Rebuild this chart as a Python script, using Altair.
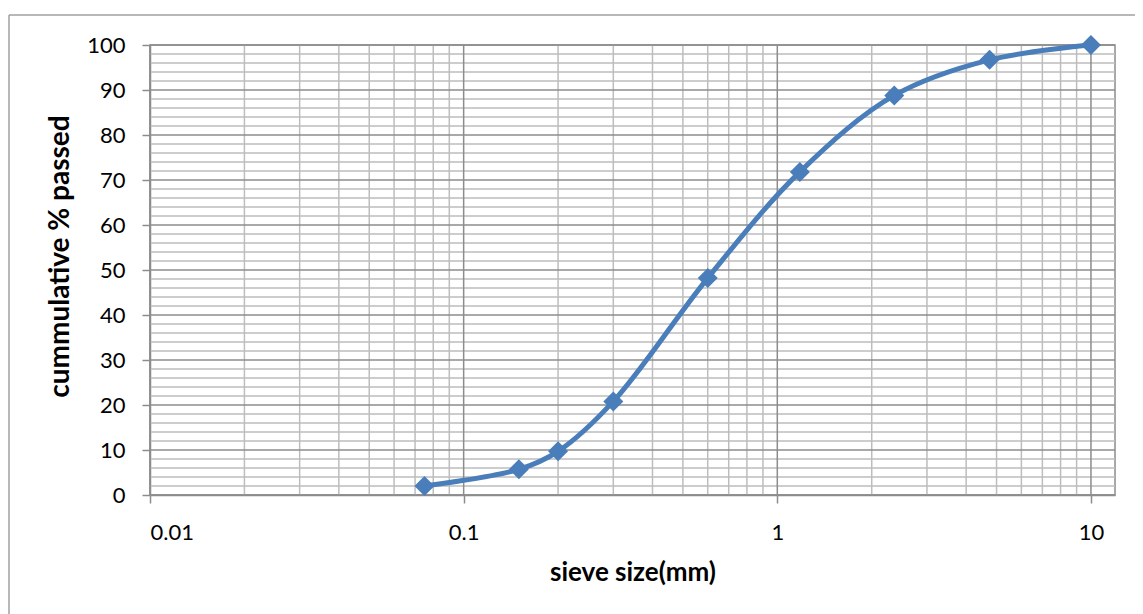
import altair as alt
import pandas as pd

# data
sieve_mm = [0.075, 0.15, 0.2, 0.3, 0.6, 1.18, 2.36, 4.75, 10]
passed = [2.0, 5.7, 9.7, 20.8, 48.2, 71.8, 88.8, 96.7, 100.0]

x_major = [0.01, 0.1, 1, 10]
x_minor = [0.02, 0.03, 0.04, 0.05, 0.06, 0.07, 0.08, 0.09,
           0.2, 0.3, 0.4, 0.5, 0.6, 0.7, 0.8, 0.9,
           2, 3, 4, 5, 6, 7, 8, 9]
y_major = [0, 10, 20, 30, 40, 50, 60, 70, 80, 90, 100]
y_minor = [v for v in range(0, 101, 2) if v % 10 != 0]

W, H = 965, 450
BLUE = "#4a7ebb"
MAJOR = "#8c8c8c"
MINOR = "#bdbdbd"
FONT = "Lato"
XT = "sieve size(mm)"
YT = "cummulative % passed"

xs = alt.Scale(type="log", domain=[0.01, 11.93], nice=False)
ys = alt.Scale(domain=[0, 100], nice=False)

xaxis = alt.Axis(values=x_major, format="~g", grid=False,
                 tickSize=8, tickColor=MAJOR, tickWidth=1.5,
                 domainColor=MAJOR, domainWidth=1.5,
                 labelPadding=19, titlePadding=16)
yaxis = alt.Axis(values=y_major, grid=False,
                 tickSize=8, tickColor=MAJOR, tickWidth=1.5,
                 domainColor=MAJOR, domainWidth=1.5,
                 labelPadding=17, titleX=-76, titleY=211, titleFontSize=28)

df = pd.DataFrame({"x": sieve_mm, "y": passed})

xminor = alt.Chart(pd.DataFrame({"x": x_minor})).mark_rule(
    color=MINOR, strokeWidth=1.5).encode(x=alt.X("x:Q", scale=xs, title=XT, axis=xaxis))
xmajor = alt.Chart(pd.DataFrame({"x": x_major})).mark_rule(
    color=MAJOR, strokeWidth=1.5).encode(x=alt.X("x:Q", scale=xs, title=XT, axis=xaxis))
yminor = alt.Chart(pd.DataFrame({"y": y_minor})).mark_rule(
    color=MINOR, strokeWidth=1.5).encode(y=alt.Y("y:Q", scale=ys, title=YT, axis=yaxis))
ymajor = alt.Chart(pd.DataFrame({"y": y_major})).mark_rule(
    color=MAJOR, strokeWidth=1.5).encode(y=alt.Y("y:Q", scale=ys, title=YT, axis=yaxis))

# chart outer border (left and top)
border_left = alt.Chart(pd.DataFrame({"a": [0]})).mark_rule(
    color="#a0a0a0", strokeWidth=1.5).encode(
    x=alt.value(-141), y=alt.value(-30), y2=alt.value(H + 140))
border_top = alt.Chart(pd.DataFrame({"a": [0]})).mark_rule(
    color="#a0a0a0", strokeWidth=1.5).encode(
    x=alt.value(-141), x2=alt.value(W + 60), y=alt.value(-30))

base = alt.Chart(df).encode(
    x=alt.X("x:Q", scale=xs, title=XT, axis=xaxis),
    y=alt.Y("y:Q", scale=ys, title=YT, axis=yaxis),
)
line = base.mark_line(color=BLUE, strokeWidth=5, interpolate="catmull-rom")
pts = base.mark_point(shape="diamond", filled=True, color=BLUE, size=400, opacity=1)

chart = alt.layer(xminor, yminor, xmajor, ymajor, line, pts, border_left, border_top).properties(
    width=W, height=H,
    autosize=alt.AutoSizeParams(type="none"),
    padding={"left": 142, "top": 37, "right": 20, "bottom": 140},
).configure_view(stroke=MAJOR, strokeWidth=1.5).configure_axis(
    labelFont=FONT, labelFontSize=22, labelColor="#000000",
    titleFont=FONT, titleFontSize=26, titleFontWeight="bold", titleColor="#000000",
)

chart.save("out.html", embed_options={"renderer": "svg", "actions": False})
